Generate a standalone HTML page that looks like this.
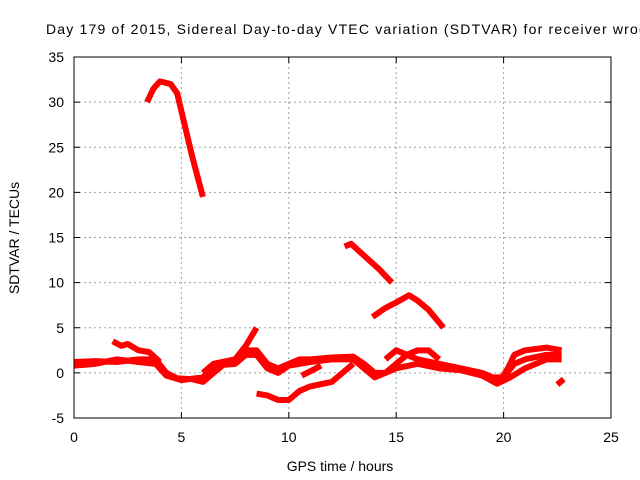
<!DOCTYPE html>
<html><head><meta charset="utf-8"><style>
body{margin:0;background:#fff;}
svg{display:block;font-family:"Liberation Sans",sans-serif;}
</style></head><body>
<svg id="chart" width="640" height="480" viewBox="0 0 640 480">
<text x="46" y="34" font-size="14" textLength="600" lengthAdjust="spacing" fill="#000">Day 179 of 2015, Sidereal Day-to-day VTEC variation (SDTVAR) for receiver wroc</text>
<text x="340" y="471" font-size="14" text-anchor="middle">GPS time / hours</text>
<text transform="translate(19,238) rotate(-90)" font-size="14" text-anchor="middle">SDTVAR / TECUs</text>
<g id="grid"></g><g id="series"></g><g id="axes"></g>
</svg>
<script>
const xTicks=[0,5,10,15,20,25];
const yTicks=[-5,0,5,10,15,20,25,30,35];
const seg1=[[0,1.2],[1,1.3],[2,1.2],[3,1.5],[3.8,1.5],[4.3,0],[4.8,-0.6],[5.5,-0.7],[6,-1],[6.5,0],[7,1],[7.5,1.5],[8,2.5],[8.5,2.5],[9,1],[9.5,0.5],[10,1],[10.5,1.5],[11,1.5],[12,1.7],[13,1.8],[13.5,1],[14,0],[14.5,0],[15,1],[15.5,2],[16,1.5],[17,1],[18,0.5],[19,0],[19.5,-0.5],[20,-0.5],[20.5,1],[21,1.5],[22,2],[22.7,2]];
const seg1b=[[0,0.8],[1,1],[2,1.5],[3,1.2],[3.8,1],[4.3,-0.3],[5,-0.8],[6,-0.5],[6.5,0.8],[7.5,1],[8,2],[8.5,2],[9,0.5],[9.5,0],[10,0.8],[11,1.2],[12,1.5],[13,1.5],[13.5,0.5],[14,-0.5],[15,0.5],[16,1],[17,0.5],[18,0.3],[19,-0.3],[19.7,-1.2],[20.3,-0.5],[21,0.5],[22,1.5],[22.7,1.5]];
const seg2=[[1.8,3.5],[2.2,3],[2.5,3.2],[3,2.5],[3.5,2.3],[4,1.2]];
const seg3=[[6,0],[6.5,1],[7.5,1.5],[8,3],[8.5,5]];
const seg4=[[8.5,-2.3],[9,-2.5],[9.5,-3],[10,-3],[10.5,-2],[11,-1.5],[12,-1],[12.5,0],[13,1]];
const seg5=[[10.6,-0.3],[11.1,0.3],[11.5,0.8]];
const seg6=[[14.5,1.5],[15,2.5],[15.5,2],[16,2.5],[16.5,2.5],[17,1.5]];
const seg7=[[19.8,-1],[20.2,0.5],[20.5,2],[21,2.5],[22,2.8],[22.7,2.5]];
const seg8=[[22.5,-1.3],[22.8,-0.7]];
const seg9=[[3.4,30],[3.7,31.5],[4,32.3],[4.5,32],[4.8,31],[5.2,27],[5.5,24],[6,19.5]];
const seg10=[[12.6,14],[12.9,14.3],[13.5,13],[14.2,11.5],[14.8,10]];
const seg11=[[13.9,6.2],[14.5,7.2],[15,7.8],[15.6,8.6],[16,8],[16.5,7],[17.2,5]];
const segments=[seg1,seg1b,seg2,seg3,seg4,seg5,seg6,seg7,seg8,seg9,seg10,seg11];
const X0=74,X1=611,Y0=418,Y1=57;
const xs=v=>X0+(v-0)/25*(X1-X0);
const ys=v=>Y0-(v+5)/40*(Y0-Y1);
const NS="http://www.w3.org/2000/svg";
const grid=document.getElementById('grid'),axes=document.getElementById('axes'),ser=document.getElementById('series');
function mk(t,a,p){const e=document.createElementNS(NS,t);for(const k in a)e.setAttribute(k,a[k]);p.appendChild(e);return e;}
xTicks.forEach(t=>{const x=xs(t);
 if(t>0&&t<25){const g=mk('line',{x1:x,x2:x,y1:Y1,y2:Y0,stroke:'#a0a0a0','stroke-dasharray':'2,3'},grid);
 
 }
 mk('line',{x1:x,x2:x,y1:Y0,y2:Y0-6,stroke:'#000'},axes);mk('line',{x1:x,x2:x,y1:Y1,y2:Y1+6,stroke:'#000'},axes);
 const l=mk('text',{x:x,y:Y0+24,'font-size':14,'text-anchor':'middle'},axes);l.textContent=t;
 
 });
yTicks.forEach(t=>{const y=ys(t);
 if(t>-5&&t<35){const g=mk('line',{x1:X0,x2:X1,y1:y,y2:y,stroke:'#a0a0a0','stroke-dasharray':'2,3'},grid);
 
 }
 mk('line',{x1:X0,x2:X0+6,y1:y,y2:y,stroke:'#000'},axes);mk('line',{x1:X1,x2:X1-6,y1:y,y2:y,stroke:'#000'},axes);
 const l=mk('text',{x:X0-10,y:y+5,'font-size':14,'text-anchor':'end'},axes);l.textContent=t;
 
 });
const fr=mk('rect',{x:X0,y:Y1,width:X1-X0,height:Y0-Y1,fill:'none',stroke:'#000'},axes);


segments.forEach(s=>{const p=mk('polyline',{points:s.map(d=>xs(d[0])+','+ys(d[1])).join(' '),fill:'none',stroke:'#ff0000','stroke-width':6,'stroke-linejoin':'round'},ser);
 
 });
</script>
</body></html>
